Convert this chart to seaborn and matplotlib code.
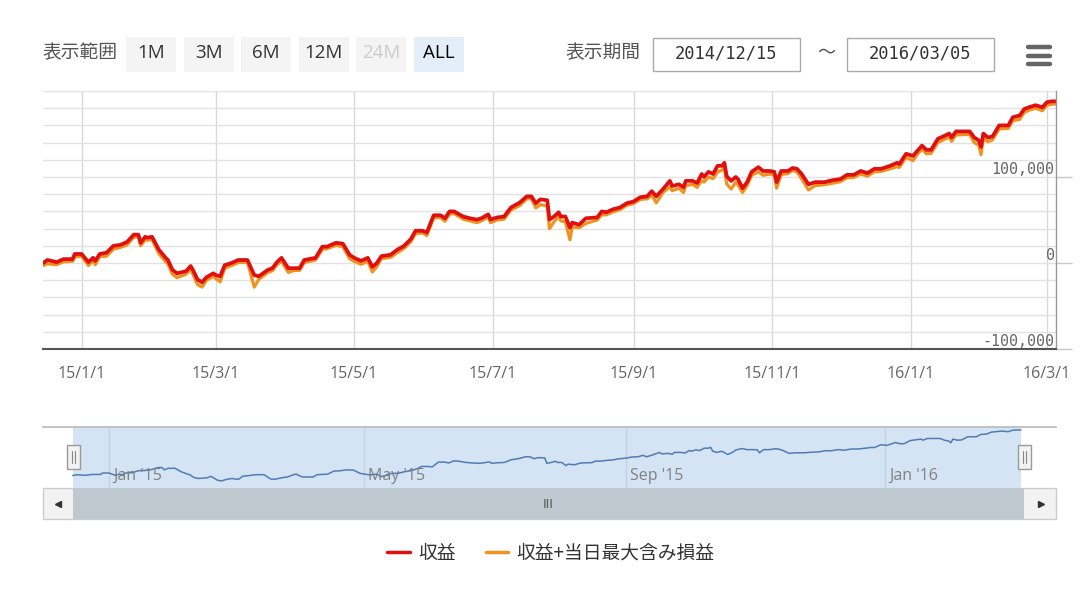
import pandas as pd
import matplotlib
matplotlib.use('Agg')
import matplotlib.pyplot as plt
import matplotlib.dates as mdates
from matplotlib.patches import Rectangle
from matplotlib.lines import Line2D
from matplotlib.ticker import MultipleLocator, FixedLocator
from matplotlib.transforms import ScaledTranslation
import seaborn as sns

# ---- data ----
start_date = '2014-12-15'
end_date = '2016-03-05'

days_since_start = [
    0, 2, 6, 9, 13, 14, 17, 20, 22, 23,
    25, 28, 31, 34, 37, 40, 42, 43, 45, 46,
    48, 51, 54, 55, 57, 59, 63, 65, 66, 68,
    70, 72, 75, 76, 78, 80, 83, 86, 90, 93,
    95, 99, 101, 103, 105, 108, 110, 113, 115, 120,
    123, 125, 129, 132, 135, 137, 140, 143, 145, 147,
    149, 153, 156, 159, 162, 164, 167, 169, 172, 175,
    177, 179, 181, 185, 188, 191, 193, 196, 197, 200,
    203, 206, 210, 213, 215, 217, 219, 222, 223, 225,
    227, 228, 230, 232, 233, 236, 239, 244, 246, 248,
    251, 254, 257, 260, 263, 266, 268, 270, 273, 276,
    277, 280, 282, 283, 286, 288, 290, 291, 293, 295,
    297, 299, 300, 301, 303, 305, 306, 308, 310, 312,
    315, 317, 320, 322, 323, 325, 328, 330, 332, 334,
    337, 340, 344, 348, 351, 354, 357, 360, 363, 366,
    369, 373, 376, 377, 380, 383, 385, 387, 389, 391,
    394, 397, 399, 400, 402, 408, 410, 412, 413, 414,
    416, 418, 421, 425, 427, 430, 432, 434, 437, 440,
    442, 444, 446,
]

profit = [
    0, 3500, 1000, 4500, 4500, 10500, 10500, 1000, 6000, 2500,
    10500, 12000, 20000, 21000, 24500, 33000, 33000, 23500, 30500, 29500,
    30500, 15500, 6000, 3500, -8000, -12000, -9500, -3500, -8000, -19000,
    -22500, -16500, -12000, -14000, -15500, -2500, 0, 3500, 3500, -14000,
    -15500, -8000, -6000, 1000, 6000, -6000, -6000, -6000, 3500, 6000,
    19000, 19000, 23500, 22500, 9500, 6000, 2500, 6000, -4500, 0,
    8000, 9500, 15500, 20000, 28000, 37500, 37500, 35500, 55500, 55500,
    52000, 60000, 60000, 54000, 52000, 50500, 52000, 56500, 50500, 53000,
    54000, 64500, 70500, 77500, 77500, 69500, 74000, 73000, 50500, 54000,
    59000, 54000, 54000, 41000, 47000, 44500, 52000, 53000, 60000, 59000,
    62500, 64500, 69500, 71500, 76500, 77500, 83500, 77500, 86000, 95500,
    89500, 91500, 88000, 95500, 95500, 93000, 103500, 100000, 106000, 103500,
    113000, 113000, 116500, 101000, 95500, 100000, 97500, 87000, 94000, 106000,
    111500, 107000, 107000, 106000, 94000, 107000, 107000, 110500, 109500, 103500,
    91500, 94000, 94000, 96500, 97500, 102500, 102500, 107000, 104500, 109500,
    109500, 113000, 116500, 115000, 127000, 124500, 130500, 136500, 131500, 131500,
    144500, 148000, 150500, 146000, 153000, 153000, 146000, 142500, 135000, 150500,
    146000, 147000, 160000, 160000, 169500, 171500, 179000, 181000, 183500, 181000,
    187000, 188000, 188000,
]

profit_with_open = [
    -3000, -1000, -2000, 1500, 2000, 7000, 8000, -3000, 3000, -2000,
    7500, 8000, 16000, 18000, 21000, 30000, 30500, 20000, 27000, 26500,
    27500, 11000, 1500, -1000, -13000, -17000, -13000, -7000, -13000, -25000,
    -28000, -20000, -15500, -18000, -22000, -6000, -3000, 500, 1000, -28000,
    -19000, -11000, -9000, -2000, 2000, -11000, -9000, -8500, 500, 3500,
    16000, 16500, 20500, 19000, 5000, 2000, -1500, 2000, -10500, -4000,
    5000, 6500, 12000, 17000, 25000, 34000, 35000, 32000, 52500, 53000,
    48500, 57000, 57500, 51000, 49000, 47000, 49000, 53500, 47000, 50000,
    51000, 61500, 67000, 74500, 75000, 64000, 68000, 66000, 40000, 48000,
    54000, 49000, 48000, 27000, 42000, 41000, 46000, 50000, 56000, 56000,
    59500, 62000, 67000, 69000, 74000, 74500, 79000, 70000, 82000, 88500,
    84000, 87000, 82000, 90000, 91500, 88000, 96000, 94000, 100000, 98000,
    106000, 108000, 110000, 92000, 86000, 94000, 91000, 82000, 90000, 102000,
    106000, 102000, 103500, 102000, 87000, 103000, 104000, 107500, 106000, 98000,
    85000, 90000, 91000, 93000, 94500, 99000, 99500, 103500, 101000, 106000,
    106500, 109500, 112000, 111000, 123000, 119000, 126500, 132500, 127000, 127500,
    140000, 144000, 146500, 141500, 149000, 149500, 140000, 137000, 126000, 145000,
    141000, 143000, 156000, 156500, 165500, 167000, 175000, 177500, 180000, 177000,
    183500, 184500, 185000,
]

series_names = ['収益', '収益+当日最大含み損益']
tick_dates = ['2015-01-01', '2015-03-01', '2015-05-01', '2015-07-01',
              '2015-09-01', '2015-11-01', '2016-01-01', '2016-03-01']
tick_labels = ['15/1/1', '15/3/1', '15/5/1', '15/7/1',
               '15/9/1', '15/11/1', '16/1/1', '16/3/1']
y_ticks = [-100000, 0, 100000]
nav_tick_dates = ['2015-01-01', '2015-05-01', '2015-09-01', '2016-01-01']
nav_tick_labels = ["Jan '15", "May '15", "Sep '15", "Jan '16"]
range_buttons = ['1M', '3M', '6M', '12M', '24M', 'ALL']

RED = '#e01010'
ORANGE = '#f0921e'
NAV_LINE = '#4f7db3'

df = pd.DataFrame({
    'date': pd.Timestamp(start_date) + pd.to_timedelta(days_since_start, unit='D'),
    'profit': profit,
    'profit_open': profit_with_open,
})
t0, t1 = pd.Timestamp(start_date), pd.Timestamp(end_date)

sns.set_theme(style='white')
plt.rcParams['font.family'] = ['Noto Sans CJK JP', 'DejaVu Sans']

W, H = 1080, 603
fig = plt.figure(figsize=(W / 100, H / 100), dpi=100)


def rect(px0, py0, px1, py1):
    return [px0 / W, 1 - py1 / H, (px1 - px0) / W, (py1 - py0) / H]


# overlay in pixel units for the toolbar / scrollbar decorations
ov = fig.add_axes([0, 0, 1, 1], zorder=0)
ov.set_xlim(0, W)
ov.set_ylim(H, 0)
ov.axis('off')
ov.patch.set_alpha(0)

ov.text(80, 53, '表示範囲', ha='center', va='center', fontsize=13.5, color='#555555')
for i, b in enumerate(range_buttons):
    x0 = 126 + i * 57.6
    face = '#e4eef9' if b == 'ALL' else '#f4f4f4'
    ov.add_patch(Rectangle((x0, 37), 50, 35, facecolor=face, edgecolor='none'))
    col = '#cccccc' if b == '24M' else ('#000000' if b == 'ALL' else '#333333')
    ov.text(x0 + 25, 53, b, ha='center', va='center', fontsize=13.5, color=col,
            family=['Open Sans', 'DejaVu Sans'])

ov.text(603, 53, '表示期間', ha='center', va='center', fontsize=13.5, color='#555555')
for x0, txt in [(653, '2014/12/15'), (847, '2016/03/05')]:
    ov.add_patch(Rectangle((x0, 38), 147, 33, facecolor='white', edgecolor='#aaaaaa', lw=1))
    ov.text(x0 + 73.5, 53, txt, ha='center', va='center', fontsize=12.3, color='#333333',
            family=['DejaVu Sans Mono'])
ov.text(826, 53, '～', ha='center', va='center', fontsize=13, color='#555555')
for yy in [47, 55.5, 64]:
    ov.plot([1028, 1050], [yy, yy], color='#666666', lw=3.2, solid_capstyle='round')

# scrollbar
ov.add_patch(Rectangle((43, 488), 1013, 31, facecolor='#f2f2f2', edgecolor='#cccccc', lw=1))
ov.add_patch(Rectangle((73, 488), 951, 31, facecolor='#bfc7cf', edgecolor='none'))
ov.text(548, 504, 'III', ha='center', va='center', fontsize=9, color='#555555')
ov.plot([58], [504], marker='<', ms=4, color='#333333')
ov.plot([1041], [504], marker='>', ms=4, color='#333333')

# ---- main chart ----
ax = fig.add_axes(rect(43, 91, 1056, 349), zorder=1)
ax.patch.set_alpha(0)
sns.lineplot(data=df, x='date', y='profit_open', ax=ax, color=ORANGE, lw=2.3, legend=False)
sns.lineplot(data=df, x='date', y='profit', ax=ax, color=RED, lw=2.7, legend=False)
ax.set_xlim(t0, t1)
ax.set_ylim(-100000, 200000)
ax.set_xlabel('')
ax.set_ylabel('')

ax.yaxis.set_major_locator(FixedLocator(y_ticks))
ax.yaxis.set_minor_locator(MultipleLocator(20000))
ax.set_yticklabels([f'{v:,}' for v in y_ticks])
ax.grid(axis='y', which='both', color='#e2e2e2', lw=1)
ax.set_xticks(pd.to_datetime(tick_dates))
ax.set_xticklabels(tick_labels)
ax.grid(axis='x', color='#d9d9d9', lw=1)
ax.set_axisbelow(True)

ax.tick_params(axis='x', length=7, width=1, color='#999999', pad=5,
               labelsize=11.5, labelcolor='#666666')
ax.tick_params(axis='y', which='major', left=False, right=True, labelleft=False,
               labelright=True, length=11.5, width=1, color='#c8c8c8', pad=-12.5,
               labelsize=10.8, labelcolor='#666666')
ax.tick_params(axis='y', which='minor', left=False, right=False)
for lbl in ax.get_xticklabels():
    lbl.set_family(['Open Sans', 'DejaVu Sans'])
for lbl in ax.get_yticklabels():
    lbl.set_family(['DejaVu Sans Mono'])
    lbl.set_horizontalalignment('right')
    lbl.set_verticalalignment('bottom')

for s in ['left', 'top']:
    ax.spines[s].set_visible(False)
ax.spines['right'].set_color('#999999')
ax.spines['right'].set_linewidth(1)
ax.spines['bottom'].set_color('#555555')
ax.spines['bottom'].set_linewidth(1.5)

# ---- navigator ----
nav = fig.add_axes(rect(43, 427, 1056, 488), zorder=1)
nav.patch.set_alpha(0)
nav.axvspan(t0, t1, color='#d5e4f5', lw=0, zorder=0.2)
sns.lineplot(data=df, x='date', y='profit', ax=nav, color=NAV_LINE, lw=1.1, legend=False)
nav.set_xlim(t0 - pd.Timedelta(days=14), t1 + pd.Timedelta(days=16.5))
nav.set_ylim(-51400, 200400)
nav.set_xlabel('')
nav.set_ylabel('')
nav.set_yticks([])
nav.set_xticks(pd.to_datetime(nav_tick_dates))
nav.set_xticklabels([])
nav.set_axisbelow(True)
nav.grid(axis='x', color='#c3d1e2', lw=1)
nav.tick_params(axis='x', length=0)
lab_tr = nav.get_xaxis_transform() + ScaledTranslation(4 / 100, 0, fig.dpi_scale_trans)
for d, lab in zip(nav_tick_dates, nav_tick_labels):
    nav.text(mdates.date2num(pd.Timestamp(d)), 0.2, lab, transform=lab_tr,
             ha='left', va='center', fontsize=11.5, color='#808080',
             family=['Open Sans', 'DejaVu Sans'])
for s in ['left', 'right', 'bottom']:
    nav.spines[s].set_visible(False)
nav.spines['top'].set_color('#bbbbbb')

# navigator handles
ov2 = fig.add_axes([0, 0, 1, 1], zorder=2)
ov2.set_xlim(0, W)
ov2.set_ylim(H, 0)
ov2.axis('off')
ov2.patch.set_alpha(0)
for hx in [73.5, 1024.5]:
    ov2.add_patch(Rectangle((hx - 6.5, 445), 13, 24, facecolor='#f2f2f2', edgecolor='#999999', lw=1))
    for dx in [-1.5, 1.5]:
        ov2.plot([hx + dx, hx + dx], [451, 463], color='#888888', lw=0.8)

# ---- legend ----
handles = [Line2D([], [], color=RED, lw=2.5), Line2D([], [], color=ORANGE, lw=2.5)]
fig.legend(handles, series_names, loc='center', bbox_to_anchor=(551 / W, 1 - 553 / H),
           ncol=2, frameon=False, fontsize=13.5, handlelength=1.2, handletextpad=0.45,
           columnspacing=1.6, labelcolor='#333333')

fig.savefig('out.png', dpi=100, facecolor='white')
